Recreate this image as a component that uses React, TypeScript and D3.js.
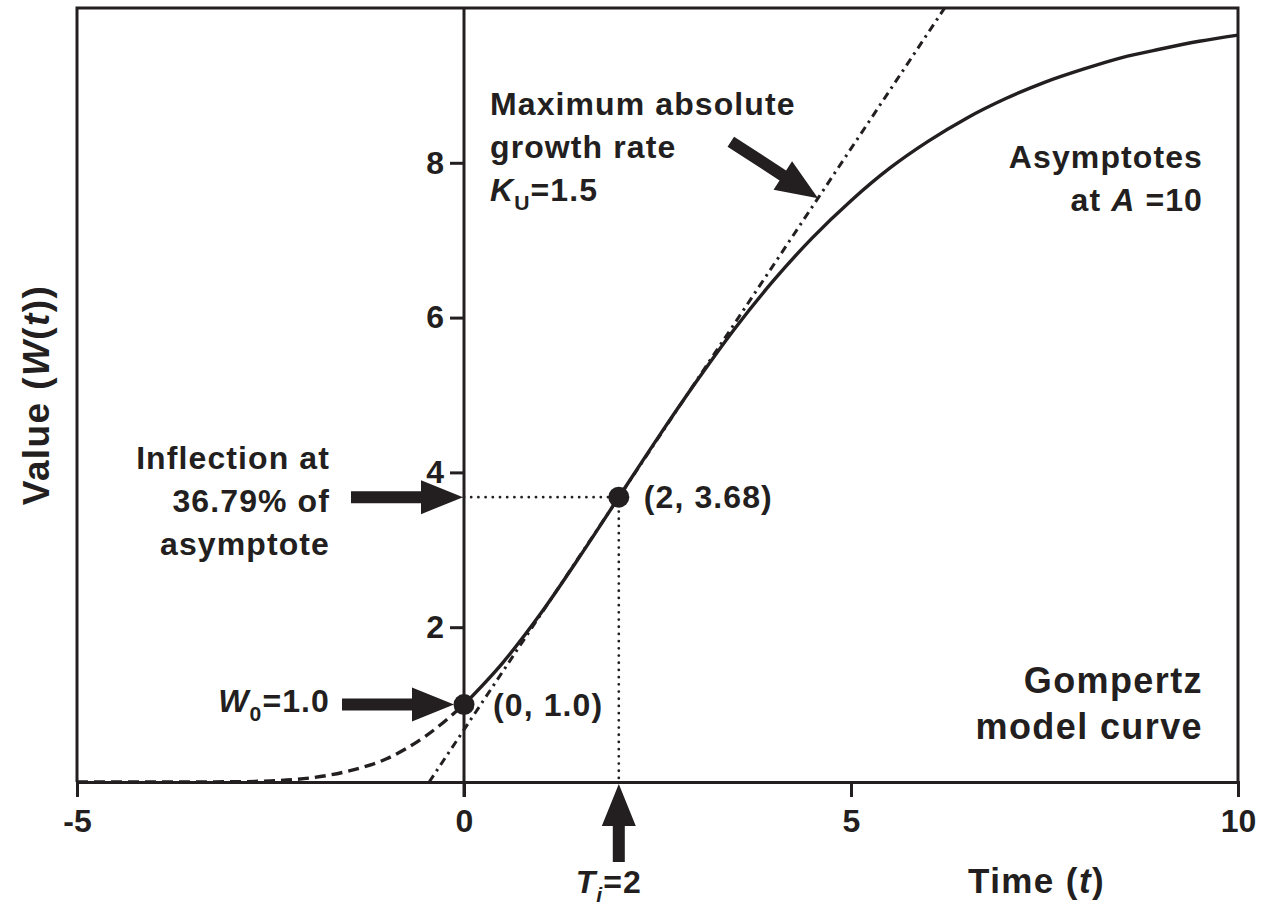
import { useEffect, useRef } from 'react'
import * as d3 from 'd3'

const W = 1273, H = 909
const FONT = "'Liberation Sans', Arial, Helvetica, sans-serif"
const INK = '#231f20'

// frame in px
const PX = { left: 77, right: 1238, top: 8, bottom: 782 }

// curve
const TIME  = [-5, -4.5, -4, -3.5, -3, -2.5, -2, -1.5, -1, -0.5, 0, 0.5, 1, 1.5, 2, 2.5, 3, 3.5, 4, 4.5, 5, 5.5, 6, 6.5, 7, 7.5, 8, 8.5, 9, 9.5, 10]
const VALUE = [0, 0, 0, 0.001, 0.003, 0.015, 0.05, 0.14, 0.30, 0.59, 1.0, 1.54, 2.19, 2.92, 3.68, 4.44, 5.17, 5.86, 6.48, 7.03, 7.51, 7.93, 8.28, 8.58, 8.83, 9.04, 9.21, 9.36, 9.47, 9.57, 9.65]

// tangent at inflection (slope 1.5)
const TANGENT_T = [-0.45, 6.21]
const TANGENT_W = [0, 10]

// marked points
const POINT_T = [0, 2]
const POINT_W = [1.0, 3.68]

const X_TICKS = [-5, 0, 5, 10]
const Y_TICKS = [2, 4, 6, 8]

type Part = { t: string, it?: boolean, sub?: boolean }

export default function App() {
  const svgRef = useRef<SVGSVGElement>(null)

  useEffect(() => {
    const svg = d3.select(svgRef.current!)
    svg.selectAll('*').remove()

    const x = d3.scaleLinear().domain([-5, 10]).range([PX.left, PX.right])
    const y = d3.scaleLinear().domain([0, 10]).range([PX.bottom, PX.top])

    const label = (px: number, py: number, anchor: string, parts: Part[], size = 32, ls = 1.1) => {
      const txt = svg.append('text')
        .attr('x', px).attr('y', py).attr('text-anchor', anchor)
        .attr('font-family', FONT).attr('font-weight', 'bold')
        .attr('font-size', size).attr('fill', INK).attr('letter-spacing', ls)
      let shift = 0
      parts.forEach(p => {
        const ts = txt.append('tspan').text(p.t)
        if (p.it) ts.attr('font-style', 'italic')
        const want = p.sub ? size * 0.28 : 0
        if (want !== shift) { ts.attr('dy', want - shift); shift = want }
        if (p.sub) ts.attr('font-size', size * 0.66)
      })
      return txt
    }

    svg.append('clipPath').attr('id', 'plot')
      .append('rect').attr('x', PX.left).attr('y', PX.top)
      .attr('width', PX.right - PX.left).attr('height', PX.bottom - PX.top)

    // ── frame + axes ──────────────────────────────────────────────────────
    svg.append('path')
      .attr('d', `M${PX.left},${PX.bottom}V${PX.top}H${PX.right}V${PX.bottom}`)
      .attr('fill', 'none').attr('stroke', INK).attr('stroke-width', 3)

    svg.append('g')
      .attr('transform', `translate(0,${y(0)})`)
      .call(d3.axisBottom(x).tickValues(X_TICKS).tickSize(15).tickPadding(12).tickFormat(d => String(d)))
      .call(ax => {
        ax.select('.domain').attr('stroke', INK).attr('stroke-width', 3)
        ax.selectAll('.tick line').attr('stroke', INK).attr('stroke-width', 3)
        ax.selectAll('.tick text').attr('font-family', FONT).attr('font-weight', 'bold')
          .attr('font-size', 32).attr('fill', INK)
      })

    svg.append('g')
      .attr('transform', `translate(${x(0)},0)`)
      .call(d3.axisLeft(y).tickValues(Y_TICKS).tickSize(14).tickPadding(6).tickFormat(d => String(d)))
      .call(ax => {
        ax.select('.domain').remove()
        ax.selectAll('.tick line').attr('stroke', INK).attr('stroke-width', 3)
        ax.selectAll('.tick text').attr('font-family', FONT).attr('font-weight', 'bold')
          .attr('font-size', 32).attr('fill', INK)
      })
    svg.append('line')
      .attr('x1', x(0)).attr('x2', x(0)).attr('y1', PX.top).attr('y2', y(0) + 15)
      .attr('stroke', INK).attr('stroke-width', 3)

    // ── axis titles ───────────────────────────────────────────────────────
    label(0, 0, 'middle', [{ t: 'Value (' }, { t: 'W', it: true }, { t: '(' }, { t: 't', it: true }, { t: '))' }], 37, 1.4)
      .attr('transform', `translate(49,${(PX.top + PX.bottom) / 2}) rotate(-90)`)
    label(1105, 893, 'end', [{ t: 'Time (' }, { t: 't', it: true }, { t: ')' }], 35, 1.4)

    // ── guide lines ───────────────────────────────────────────────────────
    const pts = POINT_T.map((t, i) => ({ t, w: POINT_W[i] }))
    const inf = pts[1]
    svg.append('line')
      .attr('x1', x(0)).attr('x2', x(inf.t)).attr('y1', y(inf.w)).attr('y2', y(inf.w))
      .attr('stroke', INK).attr('stroke-width', 2.8).attr('stroke-dasharray', '0 7.2')
      .attr('stroke-linecap', 'round')
    svg.append('line')
      .attr('x1', x(inf.t)).attr('x2', x(inf.t)).attr('y1', y(inf.w)).attr('y2', y(0))
      .attr('stroke', INK).attr('stroke-width', 2.8).attr('stroke-dasharray', '0 7.2')
      .attr('stroke-linecap', 'round')

    // ── tangent ───────────────────────────────────────────────────────────
    const tan = TANGENT_T.map((t, i) => ({ t, w: TANGENT_W[i] }))
    svg.append('path').datum(tan)
      .attr('clip-path', 'url(#plot)')
      .attr('d', d3.line<{ t: number, w: number }>().x(d => x(d.t)).y(d => y(d.w)))
      .attr('fill', 'none').attr('stroke', INK).attr('stroke-width', 3)
      .attr('stroke-dasharray', '8 5 2.5 5')

    // ── curve ─────────────────────────────────────────────────────────────
    const curve = TIME.map((t, i) => ({ t, w: VALUE[i] }))
    const line = d3.line<{ t: number, w: number }>().x(d => x(d.t)).y(d => y(d.w)).curve(d3.curveMonotoneX)
    svg.append('path').datum(curve.filter(d => d.t <= 0))
      .attr('d', line).attr('fill', 'none').attr('stroke', INK)
      .attr('stroke-width', 3.4).attr('stroke-dasharray', '11 6')
    svg.append('path').datum(curve.filter(d => d.t >= 0))
      .attr('d', line).attr('fill', 'none').attr('stroke', INK).attr('stroke-width', 3.4)

    // ── points ────────────────────────────────────────────────────────────
    svg.selectAll('circle.pt').data(pts).join('circle').attr('class', 'pt')
      .attr('cx', d => x(d.t)).attr('cy', d => y(d.w)).attr('r', 10.5).attr('fill', INK)

    // ── arrows ────────────────────────────────────────────────────────────
    const arrow = (tx: number, ty: number, len: number, angle: number) => {
      // angle: direction the arrow points, in degrees
      const head = 42, hw = 17, sw = 6
      svg.append('path')
        .attr('transform', `translate(${tx},${ty}) rotate(${angle})`)
        .attr('d', `M0,0L${-head},${-hw}L${-head},${-sw}L${-len},${-sw}L${-len},${sw}L${-head},${sw}L${-head},${hw}Z`)
        .attr('fill', INK)
    }
    arrow(x(0) - 1, y(inf.w), 112, 0)
    arrow(x(0) - 10, y(pts[0].w), 112, 0)
    arrow(x(inf.t), y(0) + 2, 78, -90)
    const tipT = 4.6, tipW = 3.68 + 1.5 * (tipT - 2)
    arrow(x(tipT) - 2, y(tipW) + 3, 104, 33)

    // ── annotations ───────────────────────────────────────────────────────
    label(490, 115, 'start', [{ t: 'Maximum absolute' }])
    label(490, 158, 'start', [{ t: 'growth rate' }])
    label(490, 201, 'start', [{ t: 'K', it: true }, { t: 'U', sub: true }, { t: '=1.5' }])

    label(1203, 168, 'end', [{ t: 'Asymptotes' }])
    label(1203, 211, 'end', [{ t: 'at ' }, { t: 'A', it: true }, { t: ' =10' }])

    label(330, 469, 'end', [{ t: 'Inflection at' }])
    label(330, 512, 'end', [{ t: '36.79% of' }])
    label(330, 555, 'end', [{ t: 'asymptote' }])

    label(330, 712, 'end', [{ t: 'W', it: true }, { t: '0', sub: true }, { t: '=1.0' }])
    label(x(0) + 29, 716, 'start', [{ t: '(0, 1.0)' }])
    label(x(inf.t) + 25, 508, 'start', [{ t: '(2, 3.68)' }])

    label(1203, 693, 'end', [{ t: 'Gompertz' }], 36, 1.4)
    label(1203, 739, 'end', [{ t: 'model curve' }], 36, 1.4)

    label(x(inf.t) - 10, 893, 'middle', [{ t: 'T', it: true }, { t: 'i', it: true, sub: true }, { t: '=2' }])
  }, [])

  return (
    <svg ref={svgRef} width={W} height={H} viewBox={`0 0 ${W} ${H}`}
      style={{ position: 'absolute', left: 0, top: 0, background: '#fff' }} />
  )
}
